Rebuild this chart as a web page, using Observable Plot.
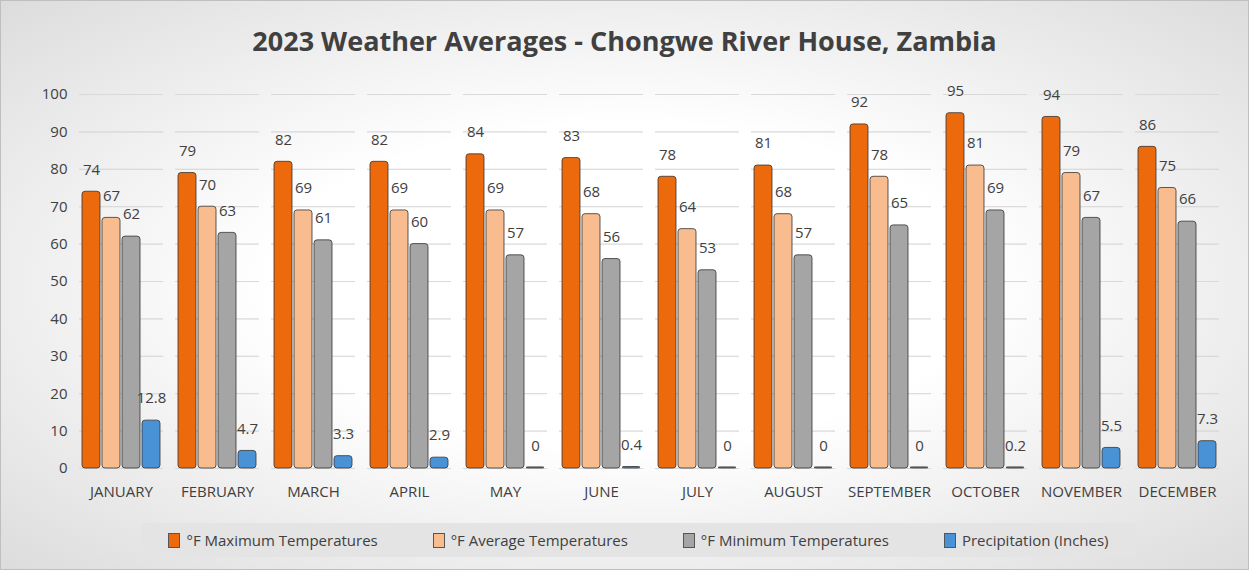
<!DOCTYPE html>
<html><head><meta charset="utf-8">
<script src="https://cdn.jsdelivr.net/npm/d3@7"></script>
<script src="https://cdn.jsdelivr.net/npm/@observablehq/plot@0.6"></script>
<style>
body{margin:0;font-family:"Open Sans",Calibri,sans-serif}
#wrap{width:1247px;height:568px;border:1px solid #bfbfbf;background:radial-gradient(ellipse at center,#ffffff 40%,#dcdcdc 100%);position:relative}
#title{height:65px;line-height:80px;text-align:center;font-size:27px;font-weight:bold;color:#404040}
#legend{position:absolute;left:140px;top:522px;width:995px;height:34px;background:#e4e4e4;display:flex;justify-content:space-around;align-items:center;font-size:15px;color:#404040}
#legend span i{display:inline-block;width:10px;height:13px;border:1px solid #555;margin-right:6px;vertical-align:-2px}
</style></head><body>
<div id="wrap"><div id="title">2023 Weather Averages - Chongwe River House, Zambia</div><div id="chart"></div>
<div id="legend"></div></div>
<script>
const months=["JANUARY","FEBRUARY","MARCH","APRIL","MAY","JUNE","JULY","AUGUST","SEPTEMBER","OCTOBER","NOVEMBER","DECEMBER"];
const series=["°F Maximum Temperatures","°F Average Temperatures","°F Minimum Temperatures","Precipitation (Inches)"];
const colors=["#ED6A0C","#F9BC8F","#A5A5A5","#4A92D6"];
const maxT=[74,79,82,82,84,83,78,81,92,95,94,86];
const avgT=[67,70,69,69,69,68,64,68,78,81,79,75];
const minT=[62,63,61,60,57,56,53,57,65,69,67,66];
const precip=[12.8,4.7,3.3,2.9,0,0.4,0,0,0,0.2,5.5,7.3];
const yTicks=d3.range(0,101,10);
const vals=[maxT,avgT,minT,precip];
const data=[];
months.forEach((m,i)=>vals.forEach((v,s)=>data.push({month:m,series:series[s],value:v[i]})));
const chart=Plot.plot({
  width:1247,height:445,marginTop:28,marginBottom:43,marginLeft:75,marginRight:25,
  style:{background:"transparent",fontSize:"15px",fontFamily:"Open Sans, sans-serif",color:"#404040"},
  fx:{domain:months,padding:0.12,label:null,axis:"bottom",tickSize:0,tickPadding:18},
  x:{domain:series,axis:null,padding:0.12},
  y:{domain:[0,100],ticks:yTicks,label:null,tickSize:0,tickPadding:12,grid:true},
  color:{domain:series,range:colors},
  marks:[
    Plot.gridY(yTicks,{stroke:"#d9d9d9",strokeOpacity:1}),
    Plot.barY(data,{fx:"month",x:"series",y:d=>Math.max(d.value,0.3),fill:"series",stroke:"#333",strokeWidth:0.8,rx:3}),
    Plot.text(data,{fx:"month",x:"series",y:"value",text:d=>String(d.value),dy:-22,fontSize:15,fill:"#404040"})
  ]
});
document.getElementById("chart").appendChild(chart);
document.getElementById("legend").innerHTML=series.map((s,i)=>`<span><i style="background:${colors[i]}"></i>${s}</span>`).join("");
</script></body></html>
